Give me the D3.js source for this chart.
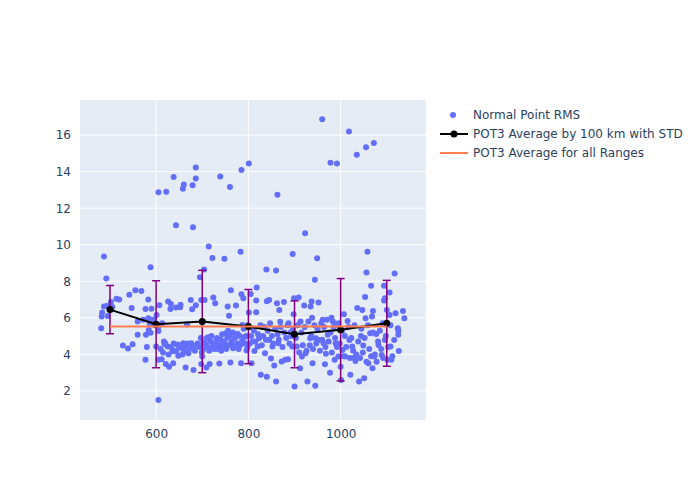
<!DOCTYPE html>
<html>
<head>
<meta charset="utf-8">
<script src="https://cdn.jsdelivr.net/npm/d3@7"></script>
<style>
  body { margin: 0; background: #fff; }
  text { font-family: "DejaVu Sans", verdana, sans-serif; fill: #2a3f5f; }
</style>
</head>
<body>
<div id="chart"></div>
<script>
// scatter: normal point rms (range km, rms)
const rmsPoints = [
  [605,12.87],[622,12.9],[638,13.7],[660,13.3],[658,13.07],[679,13.25],[686,14.23],[686,13.63],
  [739,13.73],[760,13.16],[785,14.09],[801,14.44],[863,12.74],[960,16.87],[978,14.48],[992,14.44],
  [1018,16.19],[1035,14.93],[1055,15.33],[1072,15.57],
  [481,5.43],[487,9.35],[492,8.15],[482,6.07],[483,6.29],[487,6.62],[493,6.65],[502,6.87],[514,7.04],
  [528,4.48],[539,4.32],[542,7.26],[549,4.55],[547,6.54],[555,7.51],[568,7.47],[560,5.07],[577,3.7],
  [577,6.49],[580,4.41],[578,5.08],[583,7.0],[588,8.77],[583,5.98],[589,5.89],[584,5.34],[588,5.19],
  [586,5.7],[594,5.89],[601,6.16],[600,4.43],[605,5.52],[605,5.28],[607,6.69],[605,1.51],[605,3.7],
  [612,3.73],[617,4.7],[613,5.7],[618,4.57],[621,3.48],[625,4.43],[626,6.89],[631,6.49],[628,3.33],
  [632,6.76],[635,4.17],[637,3.51],[640,4.17],[643,6.56],[643,11.07],[646,4.54],[650,4.43],[648,3.92],
  [652,6.58],[653,6.71],[656,4.34],[661,4.15],[659,4.61],[664,3.28],[667,5.63],[670,4.06],[675,6.98],
  [676,4.61],[678,6.47],[680,10.96],[681,3.15],[682,4.43],[686,6.69],[695,8.22],[698,6.98],[698,3.48],
  [700,3.88],[702,4.65],[704,8.64],[705,6.98],[714,9.9],[709,3.28],[713,4.94],[716,3.48],[722,9.28],
  [724,7.11],[728,6.8],[725,4.52],[731,4.79],[737,3.5],[738,4.43],[744,4.7],[748,9.24],[751,5.16],
  [755,6.62],[758,6.11],[762,7.51],[761,3.55],[763,4.61],[767,4.34],[773,6.67],[777,5.12],[782,4.5],
  [783,9.61],[785,7.29],[789,7.07],[787,5.61],[784,3.51],[791,4.94],[796,4.21],[801,6.29],[805,7.31],
  [807,3.51],[809,4.7],[810,5.41],[813,4.19],[817,6.95],[817,6.31],[818,7.66],[820,4.43],[823,4.88],
  [827,2.88],[830,5.52],[836,4.06],[840,6.91],[840,2.78],[839,8.64],[845,6.98],[845,4.79],[849,3.77],
  [852,4.43],[856,3.39],[860,8.59],[860,2.51],[862,6.8],[865,4.61],[867,6.43],[869,5.78],[872,3.61],
  [877,6.87],[880,3.7],[886,3.73],[887,5.7],[892,5.21],[895,4.43],[896,9.5],[898,6.2],[899,7.07],
  [900,2.24],[905,4.43],[909,7.11],[912,3.24],[913,5.8],[916,3.88],[921,6.67],[923,10.63],[924,4.06],
  [928,2.51],[934,4.88],[935,6.62],[937,6.89],[938,6.01],[939,3.51],[944,8.09],[946,4.88],[945,2.29],
  [949,9.26],[952,6.84],[953,4.79],[961,5.89],[963,4.61],[966,3.46],[968,4.03],[972,5.07],[977,3.0],
  [980,6.01],[983,5.8],[987,3.7],[989,4.61],[991,5.61],[995,3.88],[1000,3.33],[1001,2.6],[1004,4.24],
  [1007,6.2],[1010,3.88],[1015,5.83],[1019,4.79],[1021,2.88],[1025,4.43],[1029,3.82],[1032,3.64],
  [1036,6.54],[1040,2.51],[1044,5.01],[1047,6.43],[1049,4.48],[1051,2.69],[1053,7.14],[1054,5.98],
  [1056,8.48],[1058,9.61],[1060,3.51],[1064,5.16],[1066,7.75],[1068,6.07],[1070,6.38],[1069,3.24],
  [1073,3.88],[1077,5.12],[1082,4.52],[1089,3.97],[1091,5.7],[1094,6.95],[1094,7.75],[1096,7.07],
  [1096,4.79],[1100,6.43],[1101,3.7],[1106,7.38],[1106,6.16],[1108,4.43],[1110,3.7],[1117,8.42],
  [1116,4.79],[1119,6.25],[1124,5.43],[1125,5.3],[1125,5.07],[1126,4.19],[1135,6.38],[1138,5.98],
  [703,4.3],[706,4.6],[710,4.9],[712,4.4],[715,4.2],[718,4.7],[720,5.0],[722,4.4],[726,4.3],[729,4.6],
  [732,4.9],[734,4.3],[736,4.5],[740,4.8],[741,4.2],[743,5.1],[746,4.4],[749,4.6],[752,4.3],[754,4.9],
  [756,5.3],[757,4.5],[760,5.0],[764,4.7],[766,5.2],[769,4.4],[771,4.9],[774,5.1],[776,4.6],[779,4.3],
  [781,5.0],[786,4.7],[790,5.4],[793,4.6],[795,5.0],[798,4.4],[799,5.6],
  [610,4.3],[615,4.1],[620,4.6],[627,4.0],[633,4.4],[638,4.6],[644,4.2],[652,4.5],[657,4.0],[663,4.4],
  [668,4.6],[673,4.3],[679,4.5],[684,4.2],[690,4.6],[694,4.4],[697,4.9],[699,4.1],
  [803,4.6],[806,5.0],[812,5.3],[815,4.7],[821,5.1],[826,5.6],[829,4.5],[832,5.0],[835,5.5],[838,4.8],
  [842,5.3],[847,5.7],[851,5.0],[854,4.6],[858,5.4],[863,5.1],[866,4.8],[870,5.5],[874,4.4],[878,5.2],
  [882,4.9],[885,5.6],[889,4.6],[893,5.0],[897,5.4],
  [903,4.9],[907,5.6],[910,4.1],[915,5.2],[918,4.5],[922,5.5],[926,4.2],[930,5.8],[933,4.5],[936,5.0],
  [940,4.3],[943,5.6],[947,4.6],[950,5.4],[955,4.2],[958,5.7],[960,4.8],[964,5.5],[967,4.4],[970,5.9],
  [974,4.7],[978,5.2],[981,4.1],[985,5.5],[988,4.9],[992,4.4],[995,5.7],[998,4.6],[1003,5.3],[1006,3.9],
  [1009,5.0],[1012,4.4],[1017,5.5],[1020,3.8],[1023,4.9],[1027,4.2],[1030,5.6],[1034,4.0],[1038,4.7],
  [1042,3.8],[1045,5.4],[1048,4.1],[1052,4.9],[1056,3.6],[1059,5.6],[1062,4.3],[1066,3.9],[1070,5.2],
  [1074,4.0],[1078,3.6],[1081,4.7],[1085,5.3],[1088,4.3],[1092,3.8],[1098,5.0],[1103,4.4],[1108,5.6],
  [1112,3.9],
  [495,6.1],[505,6.6],[520,7.0],[560,5.8],[572,5.9],[590,6.5],[597,5.6]
]

// average by 100 km with std
const binRanges = [500, 600, 700, 800, 900, 1000, 1100]
const binMeans = [6.45, 5.65, 5.8, 5.52, 5.1, 5.35, 5.7]
const binStd = [1.32, 2.38, 2.8, 2.03, 1.83, 2.8, 2.35]

// overall average
const allRangeX = [500, 1100]
const allRangeMean = 5.52

const xTicks = [600, 800, 1000]
const yTicks = [2, 4, 6, 8, 10, 12, 14, 16]

const legendLabels = ["Normal Point RMS", "POT3 Average by 100 km with STD", "POT3 Average for all Ranges"]

const width = 700, height = 500
const plot = {left: 80, right: 426, top: 100, bottom: 420}

const svg = d3.select("#chart").append("svg")
    .attr("width", width)
    .attr("height", height)

const x = d3.scaleLinear().domain([435, 1185]).range([plot.left, plot.right])
const y = d3.scaleLinear().domain([0.41, 17.92]).range([plot.bottom, plot.top])

svg.append("rect")
    .attr("x", plot.left).attr("y", plot.top)
    .attr("width", plot.right - plot.left)
    .attr("height", plot.bottom - plot.top)
    .attr("fill", "#E5ECF6")

// grid
svg.append("g")
  .selectAll("line")
  .data(xTicks)
  .join("line")
    .attr("x1", d => x(d)).attr("x2", d => x(d))
    .attr("y1", plot.top).attr("y2", plot.bottom)
    .attr("stroke", "#fff").attr("stroke-width", 1)

svg.append("g")
  .selectAll("line")
  .data(yTicks)
  .join("line")
    .attr("x1", plot.left).attr("x2", plot.right)
    .attr("y1", d => y(d)).attr("y2", d => y(d))
    .attr("stroke", "#fff").attr("stroke-width", 1)

// axes
const xAxis = svg.append("g")
    .attr("transform", `translate(0,${plot.bottom})`)
    .call(d3.axisBottom(x).tickValues(xTicks).tickFormat(d3.format("d")).tickSize(0).tickPadding(9))
xAxis.select(".domain").remove()
xAxis.selectAll("text").attr("font-size", 12).style("fill", "#2a3f5f")
    .style("font-family", '"DejaVu Sans", verdana, sans-serif')

const yAxis = svg.append("g")
    .attr("transform", `translate(${plot.left},0)`)
    .call(d3.axisLeft(y).tickValues(yTicks).tickSize(0).tickPadding(9))
yAxis.select(".domain").remove()
yAxis.selectAll("text").attr("font-size", 12).style("fill", "#2a3f5f")
    .style("font-family", '"DejaVu Sans", verdana, sans-serif')

svg.append("clipPath").attr("id", "clip")
  .append("rect")
    .attr("x", plot.left).attr("y", plot.top)
    .attr("width", plot.right - plot.left)
    .attr("height", plot.bottom - plot.top)

const layer = svg.append("g").attr("clip-path", "url(#clip)")

// scatter
layer.append("g")
  .selectAll("circle")
  .data(rmsPoints)
  .join("circle")
    .attr("cx", d => x(d[0]))
    .attr("cy", d => y(d[1]))
    .attr("r", 3)
    .attr("fill", "#636efa")

// error bars
const bins = binRanges.map((r, i) => ({r: r, m: binMeans[i], s: binStd[i]}))
const err = layer.append("g").attr("stroke", "#800080").attr("stroke-width", 1.5)
err.selectAll("line.v")
  .data(bins)
  .join("line")
    .attr("class", "v")
    .attr("x1", d => x(d.r)).attr("x2", d => x(d.r))
    .attr("y1", d => y(d.m - d.s)).attr("y2", d => y(d.m + d.s))
err.selectAll("line.top")
  .data(bins)
  .join("line")
    .attr("class", "top")
    .attr("x1", d => x(d.r) - 4).attr("x2", d => x(d.r) + 4)
    .attr("y1", d => y(d.m + d.s)).attr("y2", d => y(d.m + d.s))
err.selectAll("line.bot")
  .data(bins)
  .join("line")
    .attr("class", "bot")
    .attr("x1", d => x(d.r) - 4).attr("x2", d => x(d.r) + 4)
    .attr("y1", d => y(d.m - d.s)).attr("y2", d => y(d.m - d.s))

// average line
const line = d3.line().x(d => x(d.r)).y(d => y(d.m))
layer.append("path")
    .datum(bins)
    .attr("d", line)
    .attr("fill", "none")
    .attr("stroke", "#000")
    .attr("stroke-width", 2)
layer.append("g")
  .selectAll("circle")
  .data(bins)
  .join("circle")
    .attr("cx", d => x(d.r))
    .attr("cy", d => y(d.m))
    .attr("r", 3.5)
    .attr("fill", "#000")

// overall average
layer.append("line")
    .attr("x1", x(allRangeX[0])).attr("x2", x(allRangeX[1]))
    .attr("y1", y(allRangeMean)).attr("y2", y(allRangeMean))
    .attr("stroke", "#ff7f50")
    .attr("stroke-width", 2)

// legend
const legend = svg.append("g").attr("transform", "translate(440,115)")
legendLabels.forEach((label, i) => {
  const g = legend.append("g").attr("transform", `translate(0,${i * 19})`)
  if (i == 0) {
    g.append("circle").attr("cx", 13).attr("cy", 0).attr("r", 3).attr("fill", "#636efa")
  } else if (i == 1) {
    g.append("line").attr("x1", 0).attr("x2", 28).attr("y1", 0).attr("y2", 0)
        .attr("stroke", "#000").attr("stroke-width", 2)
    g.append("circle").attr("cx", 14).attr("cy", 0).attr("r", 3.5).attr("fill", "#000")
  } else {
    g.append("line").attr("x1", 0).attr("x2", 28).attr("y1", 0).attr("y2", 0)
        .attr("stroke", "#ff7f50").attr("stroke-width", 2)
  }
  g.append("text")
      .attr("x", 33)
      .attr("y", 0)
      .attr("dy", "0.35em")
      .attr("font-size", 12)
      .text(label)
})
</script>
</body>
</html>
